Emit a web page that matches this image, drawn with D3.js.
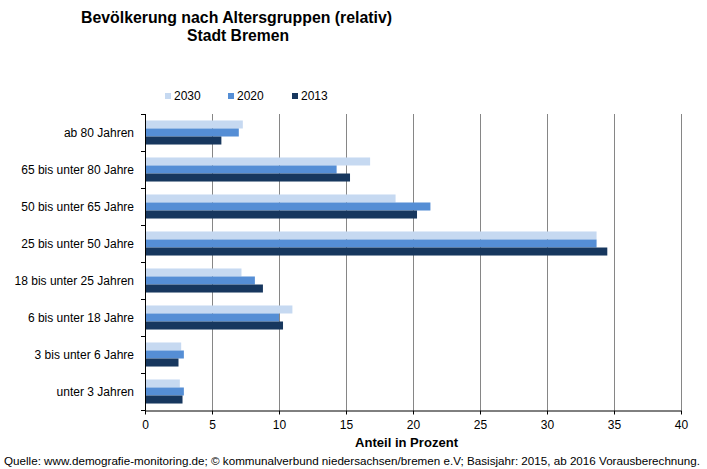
<!DOCTYPE html>
<html>
<head>
<meta charset="utf-8">
<script src="https://cdn.jsdelivr.net/npm/d3@7"></script>
<style>
  body { margin: 0; background: #fff; }
  svg text { font-family: "Liberation Sans", Arial, sans-serif; fill: #000; }
</style>
</head>
<body>
<svg id="chart" width="707" height="469"></svg>
<script>
// DATA
var categories = ['ab 80 Jahren', '65 bis unter 80 Jahre', '50 bis unter 65 Jahre', '25 bis unter 50 Jahre',
                  '18 bis unter 25 Jahren', '6 bis unter 18 Jahre', '3 bis unter 6 Jahre', 'unter 3 Jahren'];
var seriesNames = ['2030', '2020', '2013'];
var values2030 = [7.3, 16.8, 18.7, 33.7, 7.2, 11.0, 2.7, 2.6];
var values2020 = [7.0, 14.3, 21.3, 33.7, 8.2, 10.0, 2.9, 2.9];
var values2013 = [5.7, 15.3, 20.3, 34.5, 8.8, 10.3, 2.5, 2.8];
var xTicks = [0, 5, 10, 15, 20, 25, 30, 35, 40];
var colors = ['#c6d9f1', '#558ed5', '#17375e'];

var seriesValues = [values2030, values2020, values2013];

var svg = d3.select('#chart');

// plot area (not "top" - that one belongs to window)
var plotLeft = 145, plotRight = 681, plotTop = 114, plotBottom = 410;

var x = d3.scaleLinear().domain([0, 40]).range([plotLeft, plotRight]);
var y = d3.scaleBand().domain(categories).range([plotTop, plotBottom]).paddingInner(0.35).paddingOuter(0.175);
var inner = d3.scaleBand().domain(seriesNames).range([0, y.bandwidth()]);

// gridlines
svg.append('g').selectAll('line')
    .data(xTicks.slice(1))
    .enter().append('line')
    .attr('x1', function(d){ return Math.round(x(d)) + 0.5; })
    .attr('x2', function(d){ return Math.round(x(d)) + 0.5; })
    .attr('y1', plotTop)
    .attr('y2', plotBottom)
    .attr('stroke', '#868686')
    .attr('stroke-width', 1);

// bars
var groups = svg.append('g').selectAll('g')
    .data(categories)
    .enter().append('g')
    .attr('transform', function(d){ return 'translate(0,' + y(d) + ')'; });

groups.selectAll('rect')
    .data(function(d, i){
        return seriesNames.map(function(s, j){ return {name: s, value: seriesValues[j][i], idx: j}; });
    })
    .enter().append('rect')
    .attr('x', x(0))
    .attr('y', function(d){ return inner(d.name); })
    .attr('height', inner.bandwidth())
    .attr('width', function(d){ return x(d.value) - x(0); })
    .attr('fill', function(d){ return colors[d.idx]; });

// x axis
var xAxis = d3.axisBottom(x).tickValues(xTicks).tickSize(4).tickSizeOuter(0);
var gx = svg.append('g').attr('transform', 'translate(0,' + (plotBottom + 0.5) + ')').call(xAxis);
gx.select('.domain').attr('stroke', '#000');
gx.selectAll('.tick line').attr('stroke', '#000');
gx.selectAll('.tick text').attr('font-size', 12).attr('dy', '0.95em').style('font-family', '"Liberation Sans", Arial, sans-serif');

// y axis, ticks between categories
var yEdges = categories.map(function(d){ return y(d) - y.step() * y.paddingInner() / 2; });
yEdges.push(plotBottom);
var gy = svg.append('g');
gy.append('line').attr('x1', plotLeft + 0.5).attr('x2', plotLeft + 0.5).attr('y1', plotTop).attr('y2', plotBottom + 1).attr('stroke', '#000');
gy.selectAll('.edge').data(yEdges).enter().append('line')
    .attr('class', 'edge')
    .attr('x1', plotLeft - 4).attr('x2', plotLeft + 0.5)
    .attr('y1', function(d){ return Math.round(d) + 0.5; })
    .attr('y2', function(d){ return Math.round(d) + 0.5; })
    .attr('stroke', '#000');
gy.selectAll('text').data(categories).enter().append('text')
    .attr('x', 134)
    .attr('y', function(d){ return y(d) + y.bandwidth() / 2 + 4; })
    .attr('text-anchor', 'end')
    .attr('font-size', 12)
    .text(function(d){ return d; });

// titles, fitted to the measured widths
svg.append('text').attr('x', 81).attr('y', 23)
    .attr('font-size', 16).attr('font-weight', 'bold')
    .attr('textLength', 311).attr('lengthAdjust', 'spacingAndGlyphs')
    .text('Bevölkerung nach Altersgruppen (relativ)');
svg.append('text').attr('x', 187).attr('y', 41)
    .attr('font-size', 16).attr('font-weight', 'bold')
    .attr('textLength', 102).attr('lengthAdjust', 'spacingAndGlyphs')
    .text('Stadt Bremen');

svg.append('text').attr('x', 355).attr('y', 447)
    .attr('font-size', 12.5).attr('font-weight', 'bold')
    .attr('textLength', 103).attr('lengthAdjust', 'spacingAndGlyphs')
    .text('Anteil in Prozent');

// legend
var legendX = [165, 228, 292];
var legend = svg.append('g').selectAll('g')
    .data(seriesNames)
    .enter().append('g')
    .attr('transform', function(d, i){ return 'translate(' + legendX[i] + ',93)'; });
legend.append('rect').attr('width', 6).attr('height', 6).attr('fill', function(d, i){ return colors[i]; });
legend.append('text').attr('x', 9).attr('y', 6.5).attr('font-size', 12).text(function(d){ return d; });

// source
svg.append('text').attr('x', 4).attr('y', 465).attr('font-size', 11)
    .attr('textLength', 696).attr('lengthAdjust', 'spacingAndGlyphs')
    .text('Quelle:  www.demografie-monitoring.de; © kommunalverbund niedersachsen/bremen e.V; Basisjahr: 2015, ab 2016 Vorausberechnung.');
</script>
</body>
</html>
